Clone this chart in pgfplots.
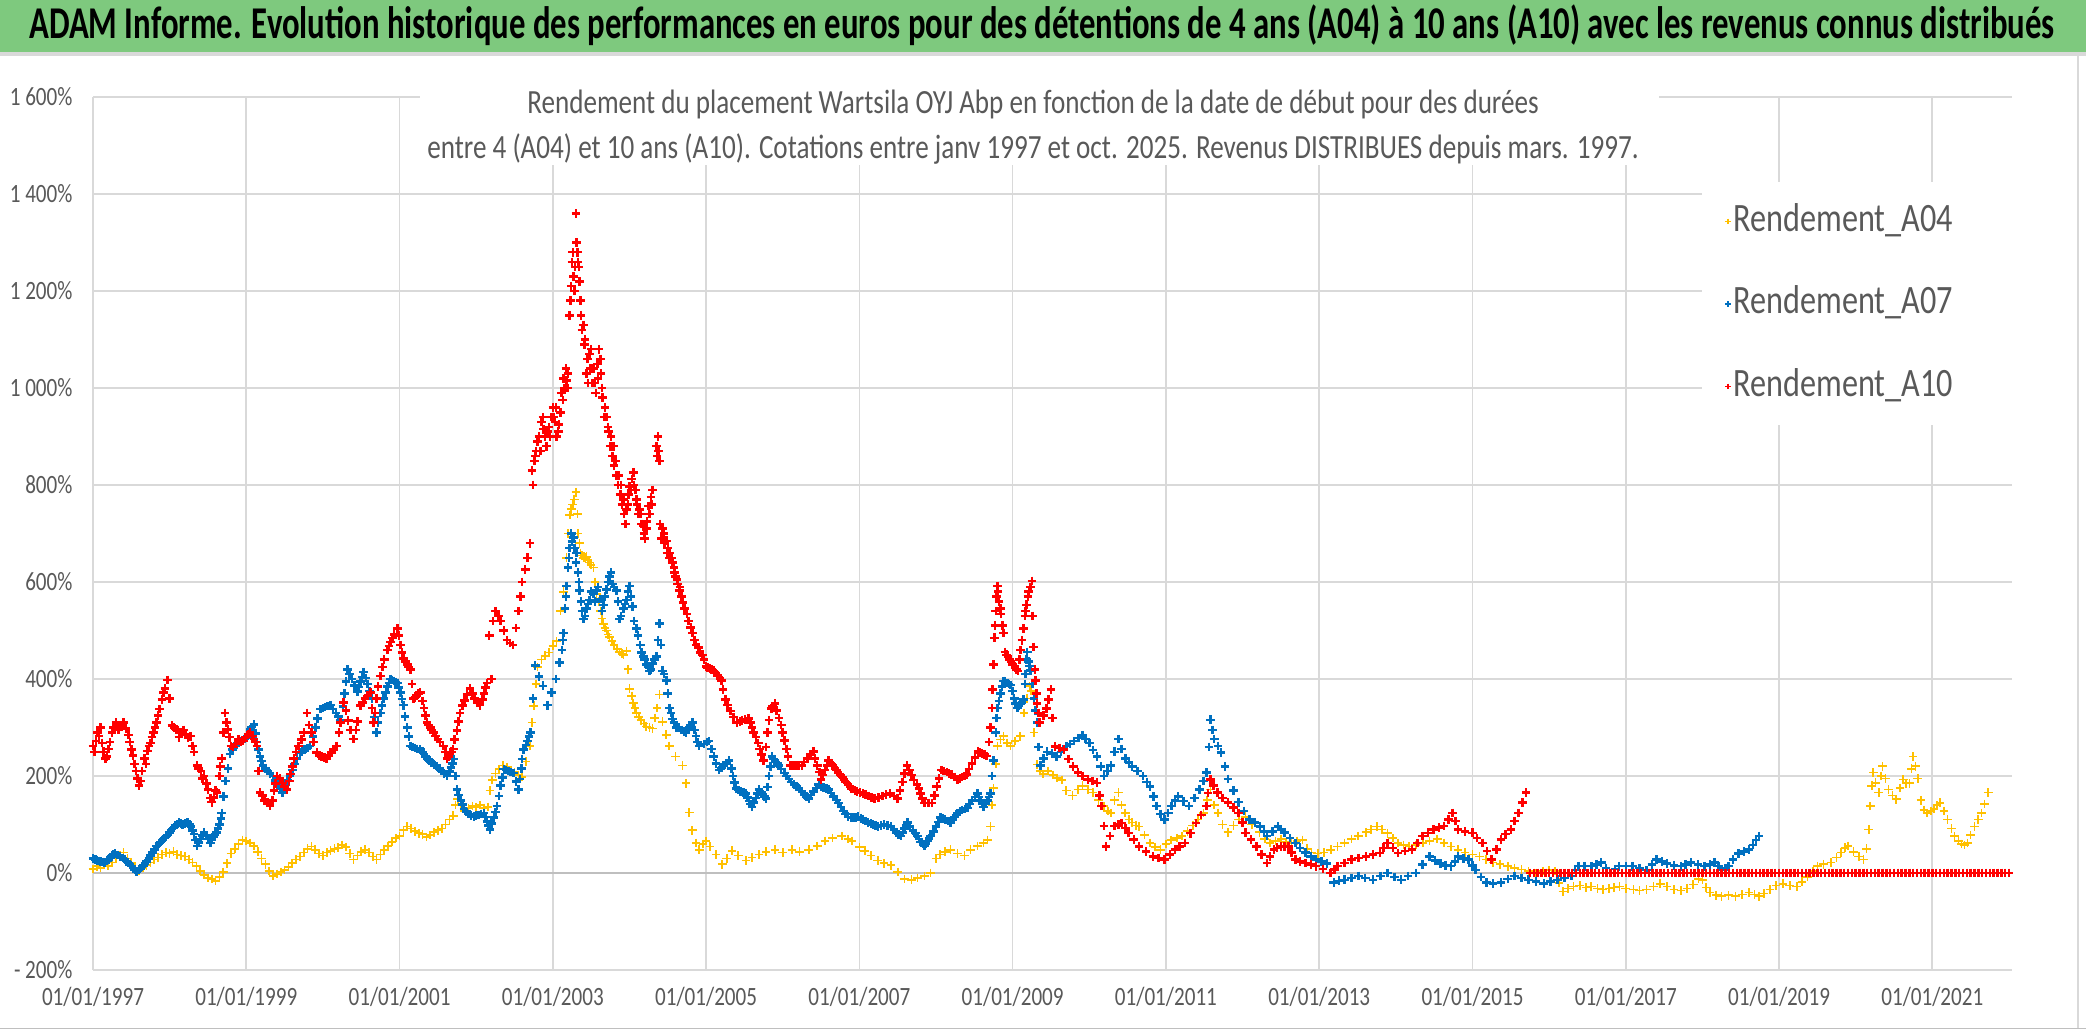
\documentclass[border=0pt]{standalone}
\usepackage{pgfplots}
\pgfplotsset{compat=1.18}
\usepackage{fontspec}
\setmainfont{Carlito}[FakeStretch=0.8]
\newfontfamily\bannerfont{Carlito}[FakeStretch=0.72]
\definecolor{ygold}{HTML}{FFC000}
\definecolor{ablue}{HTML}{0070C0}
\definecolor{ared}{HTML}{FF0000}
\definecolor{gridgray}{HTML}{D9D9D9}
\definecolor{axisgray}{HTML}{BFBFBF}
\definecolor{txtgray}{HTML}{595959}
\definecolor{bannergreen}{HTML}{7EC97E}
\begin{document}
\begin{tikzpicture}
\path[use as bounding box] (0,0) rectangle (750.96pt,-371.52pt);
\fill[white] (0,0) rectangle (750.96pt,-371.52pt);
\fill[bannergreen] (0,0) rectangle (750.96pt,-18.7pt);
\fill[gridgray] (0,-18.7pt) rectangle (750.96pt,-20.2pt);
\node[anchor=base, inner sep=0pt] at (375.1pt,-13.9pt) {\resizebox{729pt}{!}{\bannerfont\bfseries ADAM Informe. Evolution historique des performances en euros pour des détentions de 4 ans (A04) à 10 ans (A10) avec les revenus connus distribués}};
\draw[gridgray, line width=0.6pt] (748.1pt,-20.2pt) -- (748.1pt,-370pt);
\draw[axisgray, line width=0.6pt] (0pt,-370.2pt) -- (750.96pt,-370.2pt);
\begin{axis}[
  at={(33.48pt,-349.2pt)}, anchor=south west,
  scale only axis, width=690.84pt, height=314.28pt,
  xmin=1997, xmax=2022.04, ymin=-200, ymax=1600,
  clip=false,
  axis line style={draw=none},
  major tick length=0pt,
  grid=major,
  grid style={color=gridgray, line width=0.6pt},
  xtick={1997,1999,2001,2003,2005,2007,2009,2011,2013,2015,2017,2019,2021},
  xticklabels={01/01/1997,01/01/1999,01/01/2001,01/01/2003,01/01/2005,01/01/2007,01/01/2009,01/01/2011,01/01/2013,01/01/2015,01/01/2017,01/01/2019,01/01/2021},
  ytick={-200,0,200,400,600,800,1000,1200,1400,1600},
  yticklabels={-~200\%,0\%,200\%,400\%,600\%,800\%,1~000\%,1~200\%,1~400\%,1~600\%},
  tick label style={font=\fontsize{9.5}{10}\selectfont, text=txtgray},
  yticklabel style={anchor=east, inner sep=0pt, xshift=-7.2pt},
  xticklabel style={anchor=north, inner sep=0pt, yshift=-6.0pt},
  legend style={at={(axis cs:2018.29,1392)}, anchor=north west, draw=none, fill=none,
    inner sep=0pt, font=\fontsize{14.5}{16}\selectfont, text=txtgray, row sep=13.2pt,
    nodes={inner sep=1pt, text height=10.9pt, text depth=3.6pt}},
  legend image post style={mark size=1pt, line width=0.5pt},
  legend cell align=left,
]
\fill[white] (axis cs:2001.27,1650) rectangle (axis cs:2017.44,1459.8);
\fill[white] (axis cs:2017.99,1425) rectangle (axis cs:2022.3,923.7);
\draw[axisgray, line width=0.7pt] (axis cs:1997,0) -- (axis cs:2022.04,0);

\addplot[only marks, mark=+, mark size=1.55pt, line width=0.6pt, color=ygold] coordinates {
(1997.00,8)(1997.05,14)(1997.10,10)(1997.15,18)(1997.20,15)(1997.25,22)(1997.30,30)(1997.35,36)(1997.40,42)(1997.45,30)
(1997.50,20)(1997.55,10)(1997.60,4)(1997.65,10)(1997.70,16)(1997.75,22)(1997.80,28)(1997.85,32)(1997.90,38)(1997.95,42)
(1998.00,40)(1998.05,44)(1998.10,38)(1998.15,36)(1998.20,34)(1998.25,28)(1998.30,22)(1998.35,14)(1998.40,4)(1998.45,-4)
(1998.50,-10)(1998.55,-12)(1998.60,-16)(1998.65,-8)(1998.70,2)(1998.75,20)(1998.80,40)(1998.85,50)(1998.90,60)(1998.95,68)
(1999.00,66)(1999.05,62)(1999.10,56)(1999.15,44)(1999.20,30)(1999.25,18)(1999.30,4)(1999.35,-6)(1999.40,-2)(1999.45,2)
(1999.50,6)(1999.55,12)(1999.60,20)(1999.65,28)(1999.70,34)(1999.75,42)(1999.80,50)(1999.85,55)(1999.90,48)(1999.95,40)
(2000.00,36)(2000.05,42)(2000.10,46)(2000.15,50)(2000.20,52)(2000.25,58)(2000.30,54)(2000.35,40)(2000.40,28)(2000.45,36)
(2000.50,44)(2000.55,48)(2000.60,42)(2000.65,34)(2000.70,28)(2000.75,38)(2000.80,48)(2000.85,56)(2000.90,64)(2000.95,72)
(2001.00,76)(2001.05,88)(2001.10,96)(2001.15,92)(2001.20,86)(2001.25,82)(2001.30,80)(2001.35,74)(2001.40,78)(2001.45,84)
(2001.50,88)(2001.55,92)(2001.60,100)(2001.65,110)(2001.70,118)(2001.73,140)(2001.76,152)(2001.80,140)(2001.85,128)(2001.90,134)
(2001.95,138)(2002.00,136)(2002.05,140)(2002.10,134)(2002.15,136)(2002.18,170)(2002.21,192)(2002.25,205)(2002.30,214)(2002.35,222)
(2002.40,218)(2002.45,212)(2002.50,208)(2002.55,202)(2002.60,198)(2002.65,230)(2002.70,262)(2002.73,310)(2002.75,345)(2002.78,390)
(2002.80,425)(2002.85,440)(2002.90,448)(2002.95,455)(2003.00,468)(2003.05,478)(2003.10,540)(2003.14,580)(2003.18,650)(2003.22,738)
(2003.26,760)(2003.30,785)(2003.33,700)(2003.36,660)(2003.40,650)(2003.44,652)(2003.48,640)(2003.53,630)(2003.57,575)(2003.62,540)
(2003.66,514)(2003.70,500)(2003.74,486)(2003.80,470)(2003.87,456)(2003.92,450)(2003.96,458)(2004.00,380)(2004.05,350)(2004.09,330)
(2004.15,315)(2004.22,302)(2004.30,298)(2004.36,340)(2004.39,368)(2004.43,312)(2004.48,285)(2004.52,262)(2004.60,240)(2004.69,222)
(2004.74,185)(2004.78,125)(2004.82,88)(2004.87,62)(2004.91,48)(2004.96,60)(2005.00,66)(2005.05,55)(2005.13,38)(2005.21,18)
(2005.27,30)(2005.34,46)(2005.42,36)(2005.52,26)(2005.60,32)(2005.69,38)(2005.78,44)(2005.90,48)(2006.00,42)(2006.12,48)
(2006.22,44)(2006.34,48)(2006.45,56)(2006.55,66)(2006.65,72)(2006.77,76)(2006.85,70)(2006.90,66)(2007.00,54)(2007.07,46)
(2007.15,36)(2007.24,26)(2007.32,20)(2007.41,16)(2007.50,2)(2007.59,-12)(2007.68,-14)(2007.76,-10)(2007.85,-6)(2007.93,0)
(2008.00,30)(2008.05,38)(2008.12,44)(2008.19,48)(2008.28,40)(2008.37,36)(2008.45,48)(2008.54,56)(2008.62,62)(2008.67,68)
(2008.71,96)(2008.73,140)(2008.75,175)(2008.78,225)(2008.80,262)(2008.84,275)(2008.88,282)(2008.93,268)(2008.97,262)(2009.03,272)
(2009.10,282)(2009.15,330)(2009.19,360)(2009.22,385)(2009.24,375)(2009.28,290)(2009.32,224)(2009.36,210)(2009.40,204)(2009.46,210)
(2009.53,202)(2009.58,196)(2009.64,192)(2009.70,170)(2009.78,160)(2009.85,172)(2009.91,180)(2009.98,172)(2010.05,166)(2010.12,150)
(2010.19,138)(2010.24,128)(2010.28,124)(2010.33,150)(2010.38,166)(2010.42,140)(2010.47,124)(2010.52,110)(2010.56,104)(2010.61,98)
(2010.65,96)(2010.72,78)(2010.79,62)(2010.86,54)(2010.93,48)(2011.00,60)(2011.07,68)(2011.14,72)(2011.21,76)(2011.28,86)
(2011.35,98)(2011.42,110)(2011.49,124)(2011.54,150)(2011.58,172)(2011.63,140)(2011.68,124)(2011.74,100)(2011.81,84)(2011.88,98)
(2011.95,110)(2012.04,116)(2012.12,100)(2012.22,84)(2012.29,70)(2012.36,62)(2012.43,66)(2012.50,70)(2012.57,64)(2012.64,62)
(2012.71,66)(2012.78,68)(2012.84,50)(2012.90,42)(2012.98,40)(2013.06,42)(2013.15,48)(2013.24,55)(2013.33,62)(2013.42,70)
(2013.51,76)(2013.61,84)(2013.68,90)(2013.75,96)(2013.82,90)(2013.89,82)(2013.96,72)(2014.03,62)(2014.10,58)(2014.17,55)
(2014.26,58)(2014.35,62)(2014.44,66)(2014.54,70)(2014.63,62)(2014.72,55)(2014.81,48)(2014.90,42)(2015.00,38)(2015.09,34)
(2015.18,28)(2015.27,22)(2015.36,18)(2015.46,14)(2015.55,10)(2015.64,7)(2015.73,4)(2015.83,0)(2015.92,4)(2016.00,6)
(2016.08,4)(2016.13,-20)(2016.18,-38)(2016.25,-32)(2016.32,-28)(2016.40,-26)(2016.48,-30)(2016.55,-28)(2016.63,-32)(2016.70,-34)
(2016.78,-32)(2016.85,-30)(2016.92,-28)(2017.00,-32)(2017.10,-34)(2017.18,-36)(2017.27,-34)(2017.36,-28)(2017.45,-22)(2017.54,-28)
(2017.63,-34)(2017.72,-36)(2017.80,-32)(2017.88,-24)(2017.95,-12)(2018.00,-14)(2018.05,-30)(2018.10,-40)(2018.18,-46)(2018.25,-48)
(2018.34,-46)(2018.43,-48)(2018.52,-44)(2018.61,-40)(2018.68,-44)(2018.74,-48)(2018.80,-42)(2018.88,-34)(2018.96,-26)(2019.05,-22)
(2019.14,-26)(2019.23,-28)(2019.30,-18)(2019.37,-8)(2019.44,4)(2019.50,14)(2019.58,18)(2019.68,22)(2019.75,32)(2019.81,42)
(2019.86,52)(2019.90,56)(2019.97,44)(2020.04,34)(2020.10,28)(2020.14,50)(2020.17,90)(2020.19,138)(2020.21,180)(2020.23,207)
(2020.26,186)(2020.30,166)(2020.33,200)(2020.35,220)(2020.39,195)(2020.43,172)(2020.48,160)(2020.53,152)(2020.58,175)(2020.62,193)
(2020.66,185)(2020.70,185)(2020.73,215)(2020.75,240)(2020.78,220)(2020.81,195)(2020.85,150)(2020.89,130)(2020.93,124)(2020.98,128)
(2021.02,132)(2021.06,140)(2021.10,145)(2021.15,128)(2021.20,110)(2021.25,92)(2021.29,76)(2021.34,66)(2021.38,60)(2021.42,58)
(2021.46,62)(2021.50,78)(2021.55,96)(2021.60,110)(2021.64,124)(2021.68,142)(2021.73,166)
(2003.20,700)(2003.24,750)(2003.28,770)(2003.32,740)(2003.35,680)(2003.38,655)(2003.42,650)(2003.46,645)(2003.50,635)(2003.55,600)
(2003.60,560)(2003.64,525)(2003.68,505)(2003.72,492)(2003.77,478)(2003.84,462)(2003.90,452)(2003.98,420)(2004.03,365)(2004.07,340)
(2004.12,322)(2004.19,308)(2004.26,300)(2004.33,320)
};
\addlegendentry{Rendement\_A04}

\addplot[only marks, mark=+, mark size=1.55pt, line width=0.9pt, color=ablue] coordinates {
(1997.00,30)(1997.05,26)(1997.10,24)(1997.15,22)(1997.20,28)(1997.25,36)(1997.29,40)(1997.35,34)(1997.42,28)(1997.48,18)
(1997.52,10)(1997.57,3)(1997.62,10)(1997.66,16)(1997.70,24)(1997.75,36)(1997.80,48)(1997.83,56)(1997.88,64)(1997.93,72)
(1997.97,78)(1998.02,88)(1998.07,98)(1998.12,104)(1998.17,100)(1998.23,104)(1998.28,96)(1998.32,80)(1998.36,56)(1998.40,70)
(1998.45,84)(1998.50,70)(1998.53,62)(1998.57,74)(1998.61,84)(1998.65,100)(1998.68,124)(1998.70,158)(1998.73,190)(1998.76,215)
(1998.79,245)(1998.84,262)(1998.90,268)(1998.95,274)(1999.00,278)(1999.05,296)(1999.10,306)(1999.14,270)(1999.18,240)(1999.22,222)
(1999.28,210)(1999.35,200)(1999.41,182)(1999.47,166)(1999.52,182)(1999.57,200)(1999.63,225)(1999.70,248)(1999.76,255)(1999.83,262)
(1999.90,300)(1999.97,338)(2000.03,342)(2000.10,346)(2000.17,330)(2000.23,316)(2000.28,370)(2000.32,420)(2000.38,400)(2000.45,374)
(2000.49,395)(2000.53,414)(2000.58,390)(2000.64,360)(2000.67,322)(2000.70,290)(2000.75,330)(2000.79,360)(2000.84,385)(2000.88,400)
(2000.93,396)(2000.97,392)(2001.01,372)(2001.05,346)(2001.10,300)(2001.14,262)(2001.20,258)(2001.27,255)(2001.32,245)(2001.36,236)
(2001.42,228)(2001.49,220)(2001.55,210)(2001.62,200)(2001.67,218)(2001.71,235)(2001.75,172)(2001.80,150)(2001.84,132)(2001.90,122)
(2001.97,116)(2002.03,120)(2002.10,124)(2002.14,106)(2002.18,90)(2002.23,114)(2002.27,138)(2002.32,180)(2002.36,214)(2002.42,210)
(2002.49,206)(2002.55,172)(2002.59,215)(2002.62,255)(2002.67,272)(2002.71,290)(2002.74,360)(2002.77,428)(2002.82,405)(2002.87,386)
(2002.93,346)(2002.98,372)(2003.04,400)(2003.09,434)(2003.12,460)(2003.14,495)(2003.16,545)(2003.18,592)(2003.20,630)(2003.22,670)
(2003.25,684)(2003.27,692)(2003.31,660)(2003.33,620)(2003.35,582)(2003.38,540)(2003.40,524)(2003.44,545)(2003.48,563)(2003.53,575)
(2003.57,582)(2003.62,565)(2003.66,553)(2003.70,585)(2003.74,611)(2003.78,596)(2003.83,582)(2003.87,524)(2003.92,545)(2003.96,563)
(2004.00,592)(2004.04,550)(2004.09,504)(2004.14,470)(2004.18,446)(2004.22,430)(2004.26,417)(2004.30,432)(2004.35,446)(2004.39,514)
(2004.41,470)(2004.43,417)(2004.48,397)(2004.52,340)(2004.56,318)(2004.61,300)(2004.68,295)(2004.74,290)(2004.78,300)(2004.82,310)
(2004.87,282)(2004.91,262)(2004.97,266)(2005.04,272)(2005.10,240)(2005.17,212)(2005.23,222)(2005.30,232)(2005.35,200)(2005.39,174)
(2005.45,168)(2005.52,164)(2005.56,148)(2005.60,136)(2005.65,155)(2005.69,172)(2005.74,162)(2005.78,154)(2005.82,200)(2005.86,240)
(2005.90,230)(2005.95,222)(2006.02,206)(2006.08,194)(2006.15,182)(2006.21,174)(2006.28,162)(2006.34,154)(2006.40,168)(2006.47,182)
(2006.53,176)(2006.60,172)(2006.66,158)(2006.73,144)(2006.79,128)(2006.85,116)(2006.92,114)(2006.98,116)(2007.05,110)(2007.11,104)
(2007.18,100)(2007.24,96)(2007.32,100)(2007.41,96)(2007.48,84)(2007.54,76)(2007.59,92)(2007.63,104)(2007.70,88)(2007.76,76)
(2007.80,64)(2007.85,56)(2007.89,66)(2007.93,76)(2008.00,96)(2008.06,114)(2008.12,110)(2008.19,104)(2008.24,116)(2008.28,124)
(2008.34,130)(2008.41,134)(2008.47,150)(2008.54,164)(2008.58,150)(2008.62,136)(2008.67,150)(2008.71,164)(2008.73,200)(2008.75,232)
(2008.78,290)(2008.80,340)(2008.84,370)(2008.88,396)(2008.93,392)(2008.97,388)(2009.02,360)(2009.06,340)(2009.10,348)(2009.14,358)
(2009.17,410)(2009.19,456)(2009.21,436)(2009.23,418)(2009.28,360)(2009.32,310)(2009.34,260)(2009.36,222)(2009.40,236)(2009.45,250)
(2009.51,246)(2009.57,240)(2009.63,250)(2009.70,262)(2009.75,266)(2009.80,272)(2009.86,278)(2009.91,284)(2009.95,276)(2010.00,268)
(2010.05,254)(2010.10,240)(2010.15,220)(2010.19,200)(2010.24,210)(2010.28,222)(2010.33,250)(2010.38,276)(2010.42,256)(2010.47,236)
(2010.52,228)(2010.56,220)(2010.63,210)(2010.70,200)(2010.75,188)(2010.79,178)(2010.84,158)(2010.88,138)(2010.93,122)(2010.98,110)
(2011.03,124)(2011.07,138)(2011.12,150)(2011.16,158)(2011.23,148)(2011.30,138)(2011.37,155)(2011.44,172)(2011.49,190)(2011.53,207)
(2011.56,260)(2011.58,316)(2011.61,295)(2011.63,276)(2011.68,262)(2011.72,248)(2011.77,220)(2011.81,194)(2011.88,170)(2011.95,146)
(2012.02,128)(2012.09,110)(2012.16,104)(2012.23,96)(2012.28,86)(2012.32,76)(2012.39,86)(2012.46,96)(2012.50,90)(2012.55,84)
(2012.62,72)(2012.69,62)(2012.75,52)(2012.82,42)(2012.89,34)(2012.96,28)(2013.03,24)(2013.10,20)(2013.15,0)(2013.19,-20)
(2013.26,-16)(2013.33,-14)(2013.42,-10)(2013.51,-6)(2013.60,-10)(2013.70,-14)(2013.80,-6)(2013.89,0)(2013.98,-8)(2014.07,-14)
(2014.16,-6)(2014.26,0)(2014.35,18)(2014.44,34)(2014.51,26)(2014.58,20)(2014.65,16)(2014.72,14)(2014.77,24)(2014.81,34)
(2014.88,30)(2014.95,28)(2015.00,16)(2015.04,6)(2015.11,-8)(2015.18,-20)(2015.27,-22)(2015.37,-20)(2015.46,-12)(2015.55,-6)
(2015.64,-10)(2015.73,-14)(2015.83,-18)(2015.93,-22)(2016.02,-18)(2016.11,-14)(2016.20,-10)(2016.29,-6)(2016.34,6)(2016.38,14)
(2016.46,14)(2016.55,14)(2016.62,18)(2016.68,22)(2016.74,10)(2016.80,0)(2016.86,8)(2016.91,14)(2017.00,14)(2017.09,14)
(2017.18,10)(2017.27,6)(2017.34,18)(2017.40,28)(2017.47,24)(2017.54,20)(2017.63,16)(2017.72,14)(2017.78,18)(2017.85,22)
(2017.94,18)(2018.03,14)(2018.10,18)(2018.16,22)(2018.21,14)(2018.25,6)(2018.30,10)(2018.34,14)(2018.40,28)(2018.47,40)
(2018.54,44)(2018.61,48)(2018.66,58)(2018.70,68)(2018.74,76)
(2003.13,480)(2003.17,570)(2003.21,650)(2003.24,700)(2003.28,670)(2003.30,640)(2003.34,600)(2003.37,560)(2003.42,530)(2003.46,555)
(2003.50,580)(2003.55,560)(2003.59,590)(2003.64,540)(2003.68,570)(2003.72,600)(2003.76,620)(2003.80,590)(2003.85,560)(2003.89,530)
(2003.94,555)(2003.98,580)(2004.02,570)(2004.06,520)(2004.11,490)(2004.16,455)(2004.20,440)(2004.24,425)(2004.28,420)(2004.33,440)
(2004.37,480)(2004.45,410)(2004.50,370)(2004.54,330)(2004.58,310)(2004.64,300)(2004.71,292)(2004.76,295)(2004.80,305)(2004.85,295)
(2004.89,270)
(2008.79,320)(2008.82,355)(2008.86,385)(2008.90,395)(2008.95,390)(2009.00,375)(2009.04,350)(2009.08,344)(2009.12,352)(2009.16,390)
(2009.18,440)(2009.22,427)(2009.26,390)(2009.30,335)
(2005.01,270)(2005.07,256)(2005.13,226)(2005.20,217)(2005.27,227)(2005.33,216)(2005.37,187)(2005.42,171)(2005.49,166)(2005.54,156)
(2005.58,142)(2005.62,145)(2005.67,164)(2005.72,167)(2005.76,158)(2005.80,177)(2005.84,220)(2005.88,235)(2005.93,226)(2005.98,214)
(2006.05,200)(2006.11,188)(2006.18,178)(2006.25,168)(2006.31,158)(2006.37,161)(2006.44,175)(2006.50,179)(2006.57,174)(2006.63,165)
(2006.70,151)(2006.76,136)(2006.82,122)(2006.89,115)(2006.95,115)(2007.02,113)(2007.08,107)(2007.15,102)(2007.21,98)(2007.28,98)
(2007.37,98)(2007.45,90)(2007.51,80)(2007.57,84)(2007.61,98)(2007.66,96)(2007.73,82)(2007.78,70)(2007.83,60)(2007.87,61)
(2007.91,71)(2007.97,86)(2008.03,105)(2008.09,112)(2008.16,107)(2008.22,110)(2008.26,120)(2008.31,127)(2008.38,132)(2008.44,142)
(2008.51,157)(2008.56,157)(2008.60,143)(2008.65,143)(2008.69,157)
(1997.03,28)(1997.08,25)(1997.13,23)(1997.18,25)(1997.23,32)(1997.27,38)(1997.32,37)(1997.39,31)(1997.45,23)(1997.50,14)
(1997.55,6)(1997.60,6)(1997.64,13)(1997.68,20)(1997.73,30)(1997.78,42)(1997.86,60)(1997.91,68)(1997.95,75)
(1998.00,84)(1998.05,93)(1998.10,101)(1998.15,102)(1998.20,102)(1998.26,100)(1998.30,88)(1998.34,68)(1998.38,63)(1998.43,77)
(1998.48,77)(1998.55,68)(1998.59,79)(1998.63,92)(1998.67,112)(1998.82,255)(1998.87,265)(1998.92,271)(1998.98,276)(1999.02,287)
(1999.07,301)(1999.12,288)(1999.16,255)(1999.20,231)(1999.25,216)(1999.31,205)(1999.38,191)(1999.44,174)(1999.50,174)(1999.54,191)
(1999.60,212)(1999.66,236)(1999.73,251)(1999.80,258)(1999.87,281)(1999.93,319)(2000.00,340)(2000.06,344)(2000.13,338)(2000.20,323)
(2000.26,343)(2000.30,395)(2000.35,410)(2000.41,387)(2000.47,384)(2000.51,404)(2000.56,402)(2000.61,375)(2000.72,310)(2000.77,345)
(2000.82,372)(2000.86,392)(2000.90,398)(2000.95,394)(2000.99,382)(2001.03,359)(2001.07,323)(2001.12,281)(2001.17,260)(2001.23,256)
(2001.30,250)(2001.34,240)(2001.39,232)(2001.45,224)(2001.52,215)(2001.58,205)(2001.65,209)(2001.69,226)(2001.73,200)(2001.77,161)
(2001.82,141)(2001.87,127)(2001.93,119)(2002.00,118)(2002.06,122)(2002.12,115)(2002.16,98)(2002.20,102)(2002.25,126)(2002.30,159)
(2002.34,197)(2002.39,212)(2002.45,208)(2002.52,189)(2002.57,194)(2002.60,235)(2002.65,264)(2002.69,281)
};
\addlegendentry{Rendement\_A07}

\addplot[only marks, mark=+, mark size=1.55pt, line width=0.9pt, color=ared] coordinates {
(1997.00,262)(1997.04,272)(1997.08,282)(1997.12,268)(1997.16,236)(1997.20,256)(1997.25,290)(1997.30,310)(1997.36,304)(1997.43,298)
(1997.48,270)(1997.52,242)(1997.56,210)(1997.60,180)(1997.64,210)(1997.67,236)(1997.71,252)(1997.75,268)(1997.79,290)(1997.83,310)
(1997.87,338)(1997.90,358)(1997.94,380)(1997.97,398)(1998.00,360)(1998.03,304)(1998.09,296)(1998.15,290)(1998.21,286)(1998.27,282)
(1998.32,250)(1998.36,222)(1998.41,210)(1998.45,200)(1998.50,172)(1998.55,146)(1998.58,156)(1998.62,166)(1998.65,200)(1998.68,236)
(1998.70,290)(1998.72,330)(1998.76,296)(1998.80,262)(1998.86,266)(1998.93,270)(1998.99,280)(1999.05,290)(1999.10,276)(1999.14,262)
(1999.16,210)(1999.18,166)(1999.24,150)(1999.31,138)(1999.36,170)(1999.40,200)(1999.47,186)(1999.53,172)(1999.58,204)(1999.62,236)
(1999.68,262)(1999.75,290)(1999.79,330)(1999.85,290)(1999.92,248)(1999.98,240)(2000.05,236)(2000.11,248)(2000.18,262)(2000.23,310)
(2000.27,352)(2000.33,314)(2000.40,276)(2000.45,312)(2000.49,345)(2000.55,360)(2000.62,372)(2000.66,310)(2000.70,360)(2000.75,406)
(2000.80,440)(2000.84,460)(2000.88,476)(2000.93,492)(2000.97,504)(2001.01,470)(2001.05,442)(2001.10,430)(2001.14,420)(2001.18,360)
(2001.22,366)(2001.27,372)(2001.32,340)(2001.36,310)(2001.40,300)(2001.44,290)(2001.50,276)(2001.57,262)(2001.62,236)(2001.66,246)
(2001.70,256)(2001.75,294)(2001.79,330)(2001.85,356)(2001.92,380)(2001.98,360)(2002.05,346)(2002.10,370)(2002.14,392)(2002.17,490)
(2002.20,400)(2002.22,520)(2002.25,540)(2002.29,530)(2002.32,520)(2002.36,500)(2002.40,480)(2002.44,474)(2002.48,470)(2002.52,505)
(2002.55,540)(2002.58,570)(2002.60,600)(2002.64,626)(2002.67,650)(2002.70,680)(2002.73,830)(2002.76,850)(2002.78,870)(2002.82,900)
(2002.85,930)(2002.88,915)(2002.90,900)(2002.93,910)(2002.95,920)(2002.98,940)(2003.00,960)(2003.03,930)(2003.05,900)(2003.08,925)
(2003.10,950)(2003.13,975)(2003.15,1000)(2003.18,1015)(2003.20,1030)(2003.22,1150)(2003.24,1210)(2003.25,1260)(2003.27,1230)(2003.28,1200)
(2003.30,1360)(2003.31,1300)(2003.32,1280)(2003.34,1250)(2003.35,1220)(2003.37,1150)(2003.40,1130)(2003.42,1100)(2003.45,1060)(2003.48,1070)
(2003.50,1080)(2003.53,1040)(2003.55,1010)(2003.58,1050)(2003.60,1080)(2003.63,1030)(2003.65,980)(2003.68,960)(2003.70,940)(2003.73,910)
(2003.75,880)(2003.78,860)(2003.80,840)(2003.83,820)(2003.85,800)(2003.88,780)(2003.90,760)(2003.93,740)(2003.95,720)(2003.98,760)
(2004.00,797)(2004.03,812)(2004.05,826)(2004.08,790)(2004.10,760)(2004.13,750)(2004.15,740)(2004.18,715)(2004.20,690)(2004.23,725)
(2004.25,757)(2004.28,775)(2004.30,790)(2004.35,880)(2004.37,900)(2004.39,850)(2004.40,720)(2004.43,710)(2004.45,700)(2004.48,685)
(2004.50,670)(2004.53,660)(2004.55,650)(2004.58,630)(2004.60,611)(2004.63,596)(2004.65,582)(2004.70,558)(2004.75,534)(2004.80,506)
(2004.85,480)(2004.90,465)(2004.95,450)(2005.00,426)(2005.05,422)(2005.10,417)(2005.15,407)(2005.20,397)(2005.25,358)(2005.32,334)
(2005.40,310)(2005.47,315)(2005.55,319)(2005.60,300)(2005.65,280)(2005.70,256)(2005.75,232)(2005.80,290)(2005.85,339)(2005.90,349)
(2005.95,320)(2006.00,290)(2006.05,256)(2006.10,222)(2006.18,222)(2006.25,222)(2006.32,236)(2006.40,251)(2006.45,222)(2006.50,193)
(2006.55,212)(2006.60,232)(2006.65,222)(2006.70,212)(2006.75,202)(2006.80,193)(2006.85,183)(2006.90,173)(2006.97,168)(2007.05,164)
(2007.12,159)(2007.20,154)(2007.30,159)(2007.40,164)(2007.50,154)(2007.56,188)(2007.62,222)(2007.68,202)(2007.75,183)(2007.80,164)
(2007.85,144)(2007.95,144)(2008.01,178)(2008.07,212)(2008.14,208)(2008.20,203)(2008.28,193)(2008.34,198)(2008.40,203)(2008.47,226)
(2008.55,251)(2008.60,246)(2008.66,241)(2008.69,270)(2008.71,300)(2008.73,340)(2008.74,378)(2008.75,430)(2008.76,485)(2008.78,540)
(2008.80,592)(2008.82,560)(2008.85,534)(2008.88,495)(2008.90,456)(2008.94,446)(2008.98,436)(2009.03,426)(2009.07,417)(2009.10,460)
(2009.14,504)(2009.16,530)(2009.18,553)(2009.21,580)(2009.25,602)(2009.27,466)(2009.30,397)(2009.32,350)(2009.35,310)(2009.40,325)
(2009.44,339)(2009.47,358)(2009.50,378)(2009.52,320)(2009.55,261)(2009.61,258)(2009.67,255)(2009.73,235)(2009.79,220)(2009.85,207)
(2009.91,200)(2009.98,193)(2010.04,190)(2010.10,186)(2010.13,160)(2010.16,138)(2010.19,97)(2010.22,55)(2010.27,76)(2010.33,97)
(2010.38,100)(2010.42,103)(2010.47,93)(2010.51,83)(2010.58,69)(2010.65,55)(2010.74,44)(2010.83,34)(2010.90,31)(2010.98,28)
(2011.05,38)(2011.12,48)(2011.18,55)(2011.25,62)(2011.32,82)(2011.39,103)(2011.46,120)(2011.53,138)(2011.55,165)(2011.58,193)
(2011.62,180)(2011.67,166)(2011.74,155)(2011.81,145)(2011.88,135)(2011.95,124)(2012.00,104)(2012.04,83)(2012.11,69)(2012.18,55)
(2012.25,38)(2012.32,21)(2012.36,34)(2012.41,48)(2012.45,52)(2012.50,55)(2012.55,55)(2012.60,55)(2012.64,42)(2012.69,28)
(2012.75,24)(2012.82,21)(2012.89,18)(2012.96,14)(2013.05,8)(2013.15,0)(2013.20,7)(2013.24,14)(2013.33,21)(2013.42,28)
(2013.51,31)(2013.61,34)(2013.70,38)(2013.79,41)(2013.84,52)(2013.89,62)(2013.96,52)(2014.03,41)(2014.12,45)(2014.21,48)
(2014.28,62)(2014.35,76)(2014.42,83)(2014.49,90)(2014.56,94)(2014.63,97)(2014.69,110)(2014.74,124)(2014.78,107)(2014.81,90)
(2014.90,86)(2015.00,83)(2015.06,72)(2015.13,62)(2015.19,45)(2015.25,28)(2015.31,48)(2015.37,69)(2015.43,80)(2015.50,90)
(2015.55,107)(2015.60,124)(2015.65,145)(2015.70,166)
(2015.75,0)(2015.80,0)(2015.85,0)(2015.90,0)(2015.95,0)
(2016.00,0)(2016.05,0)(2016.10,0)(2016.15,0)(2016.20,0)(2016.25,0)(2016.30,0)(2016.35,0)(2016.40,0)(2016.45,0)
(2016.50,0)(2016.55,0)(2016.60,0)(2016.65,0)(2016.70,0)(2016.75,0)(2016.80,0)(2016.85,0)(2016.90,0)(2016.95,0)
(2017.00,0)(2017.05,0)(2017.10,0)(2017.15,0)(2017.20,0)(2017.25,0)(2017.30,0)(2017.35,0)(2017.40,0)(2017.45,0)
(2017.50,0)(2017.55,0)(2017.60,0)(2017.65,0)(2017.70,0)(2017.75,0)(2017.80,0)(2017.85,0)(2017.90,0)(2017.95,0)
(2018.00,0)(2018.05,0)(2018.10,0)(2018.15,0)(2018.20,0)(2018.25,0)(2018.30,0)(2018.35,0)(2018.40,0)(2018.45,0)
(2018.50,0)(2018.55,0)(2018.60,0)(2018.65,0)(2018.70,0)(2018.75,0)(2018.80,0)(2018.85,0)(2018.90,0)(2018.95,0)
(2019.00,0)(2019.05,0)(2019.10,0)(2019.15,0)(2019.20,0)(2019.25,0)(2019.30,0)(2019.35,0)(2019.40,0)(2019.45,0)
(2019.50,0)(2019.55,0)(2019.60,0)(2019.65,0)(2019.70,0)(2019.75,0)(2019.80,0)(2019.85,0)(2019.90,0)(2019.95,0)
(2020.00,0)(2020.05,0)(2020.10,0)(2020.15,0)(2020.20,0)(2020.25,0)(2020.30,0)(2020.35,0)(2020.40,0)(2020.45,0)
(2020.50,0)(2020.55,0)(2020.60,0)(2020.65,0)(2020.70,0)(2020.75,0)(2020.80,0)(2020.85,0)(2020.90,0)(2020.95,0)
(2021.00,0)(2021.05,0)(2021.10,0)(2021.15,0)(2021.20,0)(2021.25,0)(2021.30,0)(2021.35,0)(2021.40,0)(2021.45,0)
(2021.50,0)(2021.55,0)(2021.60,0)(2021.65,0)(2021.70,0)(2021.75,0)(2021.80,0)(2021.85,0)(2021.90,0)(2021.95,0)
(2022.00,0)
(2002.74,800)(2002.77,860)(2002.80,890)(2002.84,870)(2002.87,940)(2002.92,880)(2002.96,900)(2003.01,940)(2003.04,960)(2003.07,910)
(2003.11,990)(2003.14,1020)(2003.17,1040)(2003.19,1000)(2003.23,1180)(2003.26,1280)(2003.29,1250)(2003.33,1260)
(2003.36,1180)(2003.38,1120)(2003.41,1090)(2003.44,1030)(2003.46,1010)(2003.49,1040)(2003.52,1010)(2003.56,990)(2003.59,1020)(2003.62,1060)
(2003.64,1000)(2003.67,940)(2003.72,920)(2003.76,900)(2003.79,880)(2003.82,850)(2003.86,820)(2003.89,800)(2003.92,770)(2003.96,750)
(2003.99,780)(2004.02,790)(2004.06,800)(2004.09,770)(2004.12,740)(2004.16,720)(2004.19,700)(2004.22,710)(2004.26,740)(2004.29,760)
(2004.36,860)(2004.38,870)(2004.42,690)(2004.46,680)(2004.49,660)(2004.52,650)(2004.56,640)(2004.59,620)(2004.62,605)(2004.66,590)
(2004.68,570)(2004.72,545)(2004.77,520)(2004.82,495)(2004.87,470)(2004.92,455)(2004.97,440)
(2008.77,510)(2008.79,570)(2008.81,580)(2008.84,545)(2008.87,510)(2008.92,450)(2008.96,440)(2009.00,430)(2009.05,420)(2009.09,440)
(2009.12,480)(2009.17,540)(2009.20,570)(2009.23,590)(2009.26,530)(2009.29,420)(2009.31,370)(2009.34,330)
(1997.02,250)(1997.06,290)(1997.10,300)(1997.14,250)(1997.18,240)(1997.22,270)(1997.27,300)(1997.33,295)(1997.40,310)(1997.46,285)
(1997.50,255)(1997.54,225)(1997.58,195)(1997.62,190)(1997.69,225)(1997.73,262)(1997.77,280)(1997.81,300)(1997.85,325)(1997.92,372)
(1998.06,300)(1998.12,280)(1998.18,295)(1998.24,280)(1998.30,262)(1998.38,215)(1998.43,195)(1998.48,185)(1998.53,155)(1998.60,170)
(1998.66,220)(1998.74,310)(1998.78,280)(1998.83,260)(1998.90,275)(1998.96,272)(1999.02,285)(1999.08,282)(1999.12,270)
(1999.21,160)(1999.28,145)(1999.34,150)(1999.38,185)(1999.44,195)(1999.50,178)(1999.56,190)(1999.60,220)(1999.65,250)(1999.72,275)
(1999.82,305)(1999.88,270)(1999.95,242)(2000.02,238)(2000.08,242)(2000.14,255)(2000.21,290)(2000.30,335)(2000.36,295)(2000.43,295)
(2000.52,352)(2000.58,365)(2000.64,340)(2000.68,330)(2000.72,385)(2000.78,425)(2000.86,468)(2000.91,485)(2000.99,490)(2001.03,455)
(2001.08,436)(2001.12,425)(2001.16,390)(2001.20,362)(2001.25,370)(2001.30,355)(2001.34,325)(2001.38,305)(2001.42,295)(2001.47,282)
(2001.53,270)(2001.60,250)(2001.64,240)(2001.68,250)(2001.72,275)(2001.77,312)(2001.82,345)(2001.88,368)(2001.95,370)(2002.02,352)
(2002.08,358)(2002.12,382)
(2005.02,424)(2005.07,420)(2005.12,412)(2005.18,402)(2005.22,378)(2005.28,346)(2005.36,322)(2005.44,312)(2005.51,317)(2005.58,310)
(2005.62,290)(2005.68,268)(2005.72,244)(2005.78,260)(2005.82,315)(2005.87,344)(2005.92,335)(2005.98,305)(2006.02,273)(2006.07,240)
(2006.14,222)(2006.21,222)(2006.28,229)(2006.36,244)(2006.42,236)(2006.48,208)(2006.52,202)(2006.58,222)(2006.62,227)(2006.68,217)
(2006.72,207)(2006.78,198)(2006.82,188)(2006.88,178)(2006.94,170)(2007.01,166)(2007.08,162)(2007.16,156)(2007.25,156)(2007.35,162)
(2007.45,159)(2007.53,170)(2007.59,205)(2007.65,212)(2007.71,192)(2007.78,174)(2007.82,154)(2007.90,144)(2007.98,160)(2008.04,195)
(2008.10,210)(2008.17,205)(2008.24,198)(2008.31,195)(2008.37,200)(2008.43,214)(2008.51,238)(2008.57,248)(2008.63,244)
};
\addlegendentry{Rendement\_A10}
\end{axis}
\node[anchor=base, inner sep=0pt, text=txtgray, font=\fontsize{12.2}{13}\selectfont] at (371.9pt,-41pt) {Rendement du placement Wartsila OYJ Abp en fonction de la date de début pour des durées};
\node[anchor=base, inner sep=0pt, text=txtgray, font=\fontsize{12.2}{13}\selectfont] at (371.9pt,-57pt) {entre 4 (A04) et 10 ans (A10). Cotations entre janv 1997 et oct. 2025. Revenus DISTRIBUES depuis mars. 1997.};
\end{tikzpicture}
\end{document}
